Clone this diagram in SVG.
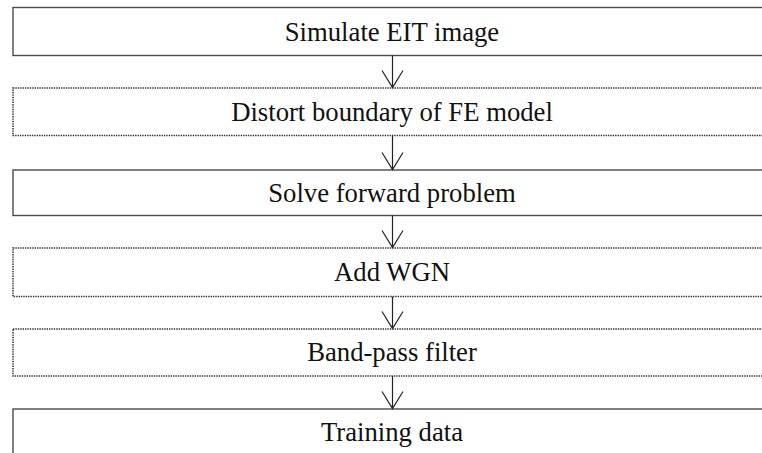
<svg xmlns="http://www.w3.org/2000/svg" width="762" height="453" viewBox="0 0 762 453">
<style>
.box{fill:#fff;stroke:#4a4a4a;stroke-width:1.4}
.dot{fill:#fff;stroke:#333;stroke-width:1.5;stroke-dasharray:1.4 1}
.lbl{font-family:"Liberation Serif","Times New Roman",serif;font-size:26.7px;fill:#111;text-anchor:middle}
.con{fill:none;stroke:#222;stroke-width:1.2}
</style>
<rect width="762" height="453" fill="#fff"/>
<g id="n1"><rect class="box" x="13" y="7.5" width="770" height="48"/><text class="lbl" x="392" y="40.5">Simulate EIT image</text></g>
<g id="n2"><rect class="dot" x="13" y="88" width="770" height="47.5"/><text class="lbl" x="392" y="121">Distort boundary of FE model</text></g>
<g id="n3"><rect class="box" x="13" y="170" width="770" height="45.5"/><text class="lbl" x="392" y="202">Solve forward problem</text></g>
<g id="n4"><rect class="dot" x="13" y="248" width="770" height="48.5"/><text class="lbl" x="392" y="281">Add WGN</text></g>
<g id="n5"><rect class="dot" x="13" y="329" width="770" height="47"/><text class="lbl" x="392" y="361">Band-pass filter</text></g>
<g id="n6"><rect class="box" x="13" y="409" width="770" height="60"/><text class="lbl" x="392" y="441">Training data</text></g>
<g id="connectors">
<path class="con" d="M392.5 55.5V87.5M382 70.5L392.5 87.5L403 70.5"/>
<path class="con" d="M392.5 135.5V169.5M382 152.5L392.5 169.5L403 152.5"/>
<path class="con" d="M392.5 215.5V247.5M382 230.5L392.5 247.5L403 230.5"/>
<path class="con" d="M392.5 296.5V328.5M382 311.5L392.5 328.5L403 311.5"/>
<path class="con" d="M392.5 376V408.5M382 391.5L392.5 408.5L403 391.5"/>
</g>
</svg>
